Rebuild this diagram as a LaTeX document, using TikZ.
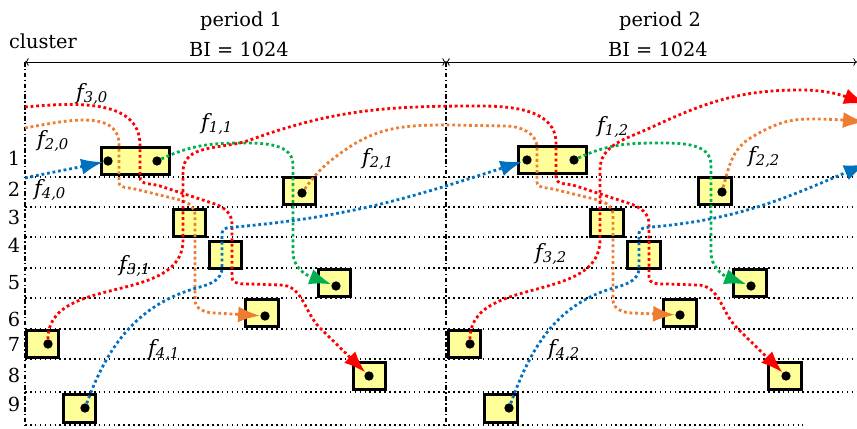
\documentclass[tikz,border=0pt]{standalone}
\usepackage{fontspec}
\setmainfont{DejaVu Serif}
\usetikzlibrary{arrows.meta}

\definecolor{fred}{RGB}{255,0,0}
\definecolor{forange}{RGB}{237,125,49}
\definecolor{fgreen}{RGB}{0,176,80}
\definecolor{fblue}{RGB}{0,112,192}
\definecolor{cellfill}{RGB}{255,255,153}

\newcommand{\fflow}[1]{{\itshape f\textsubscript{#1}}}

\begin{document}
\begin{tikzpicture}[
    x=0.03cm, y=-0.03cm, >=To,
    every node/.style={font=\fontsize{16.5}{19}\selectfont, inner sep=1pt},
    lab/.style={font=\fontsize{18}{21}\selectfont},
    cell/.style={draw, fill=cellfill, line width=2.5pt, minimum width=0.97cm, minimum height=0.83cm, inner sep=0pt},
    wide/.style={cell, minimum width=2.04cm},
    pkt/.style={circle, fill=black, minimum size=0.28cm, inner sep=0pt},
    flow/.style={line width=2.4pt, dash pattern=on 2.4pt off 2.4pt, -{Latex[length=0.66cm,width=0.48cm]}},
    slot/.style={line width=0.9pt, dash pattern=on 1.4pt off 2.8pt},
    bound/.style={line width=1.1pt, dash pattern=on 4pt off 2pt on 1.2pt off 2pt},
    span/.style={<->, line width=0.7pt}
]
\useasboundingbox (0,0) rectangle (857,429);

% headings
\node[anchor=base] (clu)  at (43,49)  {cluster};
\node[anchor=base] (per1) at (241,27) {period 1};
\node[anchor=base] (bi1)  at (239,57) {BI = 1024};
\node[anchor=base] (per2) at (660,27) {period 2};
\node[anchor=base] (bi2)  at (658,57) {BI = 1024};

% cluster numbers
\node[anchor=base] (r1) at (14,166) {1};
\node[anchor=base] (r2) at (14,197) {2};
\node[anchor=base] (r3) at (14,225) {3};
\node[anchor=base] (r4) at (14,253) {4};
\node[anchor=base] (r5) at (14,290) {5};
\node[anchor=base] (r6) at (14,327) {6};
\node[anchor=base] (r7) at (14,352) {7};
\node[anchor=base] (r8) at (14,383) {8};
\node[anchor=base] (r9) at (14,412) {9};

% slot lines
\draw[slot] (25,177) -- (857,177);
\draw[slot] (25,207) -- (857,207);
\draw[slot] (25,237) -- (857,237);
\draw[slot] (25,268) -- (857,268);
\draw[slot] (25,298) -- (857,298);
\draw[slot] (25,329) -- (857,329);
\draw[slot] (25,359) -- (857,359);
\draw[slot] (25,392) -- (857,392);
\draw[slot] (25,425) -- (803,425);

% period bounds
\draw[bound] (25,62) -- (25,425);
\draw[bound] (446,62) -- (446,425);
\draw[span] (25,62) -- (446,62);
\draw[span] (446,62) -- (857,62);

% period 1 cells
\node[wide] (a1) at (135.5,161) {};
\node[cell] (a2) at (299.5,191) {};
\node[cell] (a3) at (189.5,223) {};
\node[cell] (a4) at (225.5,255) {};
\node[cell] (a5) at (334.5,283) {};
\node[cell] (a6) at (262,313) {};
\node[cell] (a7) at (42.5,344) {};
\node[cell] (a8) at (369.5,376) {};
\node[cell] (a9) at (79.5,408.5) {};

% period 2 cells
\node[wide] (b1) at (552.5,160) {};
\node[cell] (b2) at (715,191) {};
\node[cell] (b3) at (607,223) {};
\node[cell] (b4) at (644,255) {};
\node[cell] (b5) at (750,283) {};
\node[cell] (b6) at (680,313) {};
\node[cell] (b7) at (464.5,344) {};
\node[cell] (b8) at (785,376) {};
\node[cell] (b9) at (501,408.5) {};

% end points
\node[pkt] (da1l) at (108,161) {};
\node[pkt] (da1r) at (157,161) {};
\node[pkt] (da2)  at (302,193) {};
\node[pkt] (da5)  at (336,286) {};
\node[pkt] (da6)  at (265,316) {};
\node[pkt] (da7)  at (48,344)  {};
\node[pkt] (da8)  at (369,376) {};
\node[pkt] (da9)  at (85,408)  {};
\node[pkt] (db1l) at (527,160) {};
\node[pkt] (db1r) at (574,160) {};
\node[pkt] (db2)  at (722,192) {};
\node[pkt] (db5)  at (751,286) {};
\node[pkt] (db6)  at (680,315) {};
\node[pkt] (db7)  at (470,344) {};
\node[pkt] (db8)  at (786,376) {};
\node[pkt] (db9)  at (509,408) {};

% flows entering and leaving the picture
\coordinate (in3)  at (25,107);
\coordinate (in2)  at (25,128);
\coordinate (in4)  at (25,178);
\coordinate (out3) at (866,104);
\coordinate (out2) at (865,122);
\coordinate (out4) at (866,164);

% f_1
\draw[flow, fgreen] (da1r) to[out=25,in=180] (243,143) to[out=0,in=90] (293,165) -- (293,252) to[out=-90,in=160] (da5);
\draw[flow, fgreen] (db1r) to[out=25,in=180] (660,143) to[out=0,in=90] (711,165) -- (711,252) to[out=-90,in=160] (db5);

% f_2
\draw[flow, forange] (in2) to[out=10,in=90] (119,145) -- (119,182) to[out=-90,in=165] (135,189) -- (180,200) to[out=-15,in=90] (195,215) -- (195,300) to[out=-90,in=180] (215,313) -- (da6);
\draw[flow, forange] (da2) to[out=55,in=215] (345,150) to[out=35,in=180] (450,125) -- (505,126) to[out=0,in=90] (537,148) -- (537,182) to[out=-90,in=165] (553,189) -- (598,200) to[out=-15,in=90] (613,215) -- (613,300) to[out=-90,in=180] (633,313) -- (db6);
\draw[flow, forange] (db2) to[out=75,in=210] (752,137) to[out=30,in=180] (810,119) to[out=0,in=175] (out2);

% f_3
\draw[flow, fred] (in3) to[out=5,in=90] (140,145) -- (140,177) to[out=-90,in=160] (160,186) -- (215,204) to[out=-20,in=90] (232,224) -- (232,277) to[out=-90,in=180] (250,284) -- (280,285) to[out=0,in=135] (320,328) -- (da8);
\draw[flow, fred] (da7) to[out=90,in=-90] (183,240) -- (183,172) to[out=90,in=200] (250,140) to[out=20,in=180] (480,106) to[out=0,in=90] (556,143) -- (556,177) to[out=-90,in=160] (576,186) -- (631,204) to[out=-20,in=90] (649,224) -- (649,277) to[out=-90,in=180] (667,284) -- (697,285) to[out=0,in=135] (737,328) -- (db8);
\draw[flow, fred] (db7) to[out=90,in=-90] (600,240) -- (600,170) to[out=90,in=205] (650,128) to[out=25,in=180] (800,90) to[out=0,in=160] (out3);

% f_4
\draw[flow, fblue] (in4) to[out=12,in=192] (da1l);
\draw[flow, fblue] (da9) to[out=70,in=195] (200,287) to[out=15,in=-90] (222,268) -- (222,233) to[out=90,in=185] (235,227) to[out=5,in=198] (db1l);
\draw[flow, fblue] (db9) to[out=70,in=195] (617,287) to[out=15,in=-90] (639,268) -- (639,233) to[out=90,in=185] (652,227) to[out=5,in=203] (out4);

% flow labels
\node[lab] (lf30) at (92,94)   {\fflow{3,0}};
\node[lab] (lf20) at (53,141)  {\fflow{2,0}};
\node[lab] (lf40) at (50,190)  {\fflow{4,0}};
\node[lab] (lf11) at (217,124) {\fflow{1,1}};
\node[lab] (lf21) at (378,159) {\fflow{2,1}};
\node[lab] (lf31) at (135,266) {\fflow{3,1}};
\node[lab] (lf41) at (164,350) {\fflow{4,1}};
\node[lab] (lf12) at (613,127) {\fflow{1,2}};
\node[lab] (lf22) at (764,157) {\fflow{2,2}};
\node[lab] (lf32) at (551,254) {\fflow{3,2}};
\node[lab] (lf42) at (564,350) {\fflow{4,2}};

\end{tikzpicture}
\end{document}
